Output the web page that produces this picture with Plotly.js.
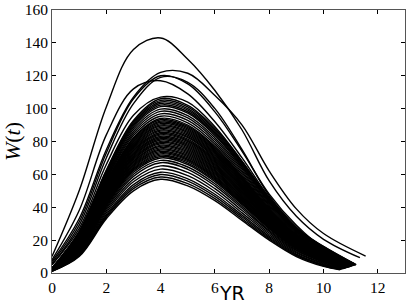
<!DOCTYPE html>
<html>
<head>
<meta charset="utf-8">
<script src="https://cdn.plot.ly/plotly-3.0.1.min.js"></script>
<style>
html,body{margin:0;padding:0;background:#fff;}
#chart{width:415px;height:305px;}
</style>
</head>
<body>
<div id="chart"></div>
<script>
// sample years for every curve (each curve also has its own final year)
const years = [0, 1, 2, 3, 4, 5, 6, 7, 8, 9, 10];

// outlying curves: W at years 0..10, then W at the final year
const outlierCurves = [
  [10, 50, 101, 136, 143, 130, 111, 87, 56, 34.5, 20.5, 9.3],
  [7, 33, 75, 107, 122, 121.5, 108, 90, 62, 39, 24, 10.3],
  [6, 31, 73, 106, 120, 115, 98, 74, 48, 29, 15, 5.5],
  [5, 29, 70, 103, 119, 116, 100, 75, 47, 28, 14.5, 5.2],
  [8, 38, 84, 112, 117, 109, 92, 70, 46, 27, 14, 5],
  [5, 27, 66, 96, 107, 104, 89, 68, 45, 27, 15, 5]
];
const outlierEnds = [11.34, 11.55, 11.15, 11.15, 11.1, 11.15];

// main band of curves: W at years 0..10, then W at the final year
const bandCurves = [
  [1, 10, 33, 50, 57, 53, 44, 32, 20, 10, 4, 2],
  [1.1, 10.5, 33.9, 51.3, 58.4, 54.4, 45.3, 33, 20.8, 10.5, 4.4, 2.1],
  [1.1, 10.9, 34.7, 52.5, 59.9, 55.9, 46.6, 34.1, 21.5, 11, 4.7, 2.2],
  [1.2, 11.4, 35.6, 53.8, 61.3, 57.3, 47.9, 35.2, 22.3, 11.5, 5.1, 2.3],
  [1.3, 12, 36.8, 55.5, 63.2, 59.2, 49.6, 36.6, 23.3, 12.2, 5.6, 2.4],
  [1.3, 12.6, 37.9, 57.1, 65.2, 61.2, 51.3, 38, 24.3, 12.9, 6, 2.5],
  [1.4, 13.2, 39.1, 58.8, 67.1, 63.1, 53, 39.4, 25.3, 13.6, 6.5, 2.6],
  [1.5, 13.6, 40, 60.1, 68.5, 64.5, 54.3, 40.4, 26, 14.1, 6.9, 2.7],
  [1.5, 14.1, 40.8, 61.3, 70, 66, 55.6, 41.5, 26.8, 14.6, 7.2, 2.8],
  [1.6, 14.4, 41.4, 62.2, 70.9, 66.9, 56.5, 42.2, 27.3, 14.9, 7.5, 2.9],
  [1.6, 14.6, 41.9, 62.9, 71.7, 67.7, 57.2, 42.7, 27.7, 15.2, 7.7, 2.9],
  [1.6, 14.8, 42.3, 63.5, 72.5, 68.5, 57.8, 43.3, 28.1, 15.5, 7.9, 3.0],
  [1.7, 15.1, 42.8, 64.2, 73.2, 69.2, 58.5, 43.8, 28.5, 15.7, 8.1, 3.0],
  [1.7, 15.3, 43.3, 64.9, 74, 70, 59.2, 44.4, 28.9, 16, 8.2, 3.1],
  [1.7, 15.6, 43.7, 65.5, 74.8, 70.8, 59.9, 45, 29.3, 16.3, 8.4, 3.1],
  [1.8, 15.8, 44.2, 66.2, 75.5, 71.5, 60.6, 45.5, 29.7, 16.6, 8.6, 3.2],
  [1.8, 16, 44.7, 66.9, 76.3, 72.3, 61.3, 46.1, 30.1, 16.8, 8.8, 3.2],
  [1.8, 16.3, 45.1, 67.6, 77.1, 73.1, 62, 46.6, 30.5, 17.1, 9, 3.3],
  [1.9, 16.5, 45.6, 68.2, 77.8, 73.8, 62.7, 47.2, 30.9, 17.4, 9.2, 3.3],
  [1.9, 16.8, 46.1, 68.9, 78.6, 74.6, 63.4, 47.8, 31.3, 17.7, 9.4, 3.4],
  [1.9, 17, 46.5, 69.6, 79.4, 75.4, 64, 48.3, 31.7, 17.9, 9.6, 3.4],
  [2, 17.2, 47, 70.2, 80.1, 76.1, 64.7, 48.9, 32.1, 18.2, 9.8, 3.4],
  [2, 17.5, 47.4, 70.9, 80.9, 76.9, 65.4, 49.4, 32.5, 18.5, 10, 3.5],
  [2, 17.7, 47.9, 71.6, 81.7, 77.7, 66.1, 50, 32.9, 18.7, 10.2, 3.5],
  [2.1, 18, 48.4, 72.3, 82.4, 78.4, 66.8, 50.6, 33.3, 19, 10.4, 3.6],
  [2.1, 18.2, 48.8, 72.9, 83.2, 79.2, 67.5, 51.1, 33.7, 19.3, 10.6, 3.6],
  [2.1, 18.4, 49.3, 73.6, 84, 80, 68.2, 51.7, 34.1, 19.6, 10.7, 3.7],
  [2.2, 18.7, 49.8, 74.3, 84.7, 80.7, 68.9, 52.2, 34.5, 19.8, 10.9, 3.7],
  [2.2, 18.9, 50.2, 74.9, 85.5, 81.5, 69.5, 52.8, 34.9, 20.1, 11.1, 3.8],
  [2.2, 19.2, 50.7, 75.6, 86.3, 82.3, 70.2, 53.4, 35.3, 20.4, 11.3, 3.8],
  [2.3, 19.4, 51.2, 76.3, 87, 83, 70.9, 53.9, 35.7, 20.6, 11.5, 3.9],
  [2.3, 19.6, 51.6, 77, 87.8, 83.8, 71.6, 54.5, 36.1, 20.9, 11.7, 3.9],
  [2.3, 19.9, 52.1, 77.6, 88.6, 84.6, 72.3, 55, 36.5, 21.2, 11.9, 4],
  [2.3, 20.1, 52.5, 78.3, 89.4, 85.4, 73, 55.6, 36.9, 21.5, 12.1, 4],
  [2.4, 20.4, 53, 79, 90.1, 86.1, 73.7, 56.2, 37.3, 21.7, 12.3, 4.1],
  [2.4, 20.6, 53.5, 79.7, 90.9, 86.9, 74.4, 56.7, 37.7, 22, 12.5, 4.1],
  [2.4, 20.8, 53.9, 80.3, 91.7, 87.7, 75, 57.3, 38.1, 22.3, 12.7, 4.2],
  [2.5, 21.1, 54.4, 81, 92.4, 88.4, 75.7, 57.8, 38.5, 22.5, 12.9, 4.2],
  [2.5, 21.3, 54.9, 81.7, 93.2, 89.2, 76.4, 58.4, 38.9, 22.8, 13, 4.3],
  [2.5, 21.6, 55.3, 82.3, 94, 90, 77.1, 59, 39.3, 23.1, 13.2, 4.3],
  [2.6, 22, 56.2, 83.6, 95.4, 91.4, 78.4, 60, 40, 23.6, 13.6, 4.4],
  [2.7, 22.5, 57.1, 84.9, 96.8, 92.8, 79.7, 61.1, 40.8, 24.1, 14, 4.5],
  [2.7, 22.9, 57.9, 86.1, 98.3, 94.3, 81, 62.1, 41.5, 24.6, 14.3, 4.6],
  [2.8, 23.4, 58.8, 87.4, 99.7, 95.7, 82.3, 63.2, 42.3, 25.1, 14.7, 4.7],
  [2.8, 23.8, 59.7, 88.6, 101.2, 97.2, 83.6, 64.2, 43, 25.6, 15, 4.8],
  [2.9, 24.1, 60.3, 89.5, 102.1, 98.1, 84.4, 64.9, 43.5, 26, 15.3, 4.8],
  [2.9, 24.4, 60.8, 90.3, 103.1, 99.1, 85.3, 65.6, 44, 26.3, 15.5, 4.9],
  [3, 24.7, 61.4, 91.2, 104, 100, 86.1, 66.3, 44.5, 26.7, 15.8, 4.9],
  [3, 25, 62, 92, 105, 101, 87, 67, 45, 27, 16, 5],
  [3, 25.3, 62.6, 92.8, 106, 102, 87.9, 67.7, 45.5, 27.3, 16.2, 5.1]
];
const bandEnds = [
  10.6, 10.62, 10.64, 10.65, 10.68, 10.7, 10.73, 10.74, 10.76,
  10.77, 10.78, 10.79, 10.8, 10.81, 10.82, 10.83, 10.84, 10.85, 10.86,
  10.87, 10.88, 10.89, 10.9, 10.91, 10.92, 10.93, 10.94, 10.95, 10.96,
  10.97, 10.98, 10.99, 11, 11, 11.01, 11.02, 11.03, 11.04, 11.05, 11.06,
  11.08, 11.1, 11.12, 11.13, 11.15, 11.16, 11.18, 11.19, 11.2, 11.2
];

const xTicks = [0, 2, 4, 6, 8, 10, 12];
const yTicks = [0, 20, 40, 60, 80, 100, 120, 140, 160];
const xLabel = 'YR';
const yLabel = '<i>W</i>(<i>t</i>)';

function curveTrace(row, endYear) {
  return {
    type: 'scatter',
    mode: 'lines',
    x: years.concat([endYear]),
    y: row,
    line: {color: '#000', width: 1.4, shape: 'spline', smoothing: 1},
    hoverinfo: 'skip',
    showlegend: false
  };
}

const traces = [];
bandCurves.forEach((row, i) => traces.push(curveTrace(row, bandEnds[i])));
outlierCurves.forEach((row, i) => traces.push(curveTrace(row, outlierEnds[i])));

const serif = 'Liberation Serif';
const tickFont = {family: serif, size: 15.5, color: '#000'};

const layout = {
  width: 415,
  height: 305,
  margin: {l: 52, r: 10, t: 10, b: 32},
  paper_bgcolor: '#fff',
  plot_bgcolor: '#fff',
  showlegend: false,
  font: {family: serif},
  xaxis: {
    range: [0, 13],
    tickmode: 'array',
    tickvals: xTicks,
    ticktext: xTicks.map(String),
    ticks: 'inside',
    ticklen: 4,
    tickcolor: '#000',
    showline: true,
    linecolor: '#555',
    linewidth: 1,
    mirror: 'allticks',
    showgrid: false,
    zeroline: false,
    tickfont: tickFont
  },
  yaxis: {
    range: [0, 160],
    tickmode: 'array',
    tickvals: yTicks,
    ticktext: yTicks.map(String),
    ticks: 'inside',
    ticklen: 4,
    tickcolor: '#000',
    showline: true,
    linecolor: '#555',
    linewidth: 1,
    mirror: 'allticks',
    showgrid: false,
    zeroline: false,
    tickfont: tickFont,
    title: {text: yLabel, font: {family: serif, size: 22, color: '#000'}, standoff: 5}
  },
  annotations: [{
    text: xLabel,
    xref: 'paper', yref: 'paper',
    x: 0.5, y: -0.1215,
    xanchor: 'center', yanchor: 'bottom',
    xshift: 3,
    borderpad: 0,
    showarrow: false,
    font: {family: 'DejaVu Sans', size: 19, color: '#000'}
  }]
};

Plotly.newPlot('chart', traces, layout, {staticPlot: true, displayModeBar: false});
</script>
</body>
</html>
